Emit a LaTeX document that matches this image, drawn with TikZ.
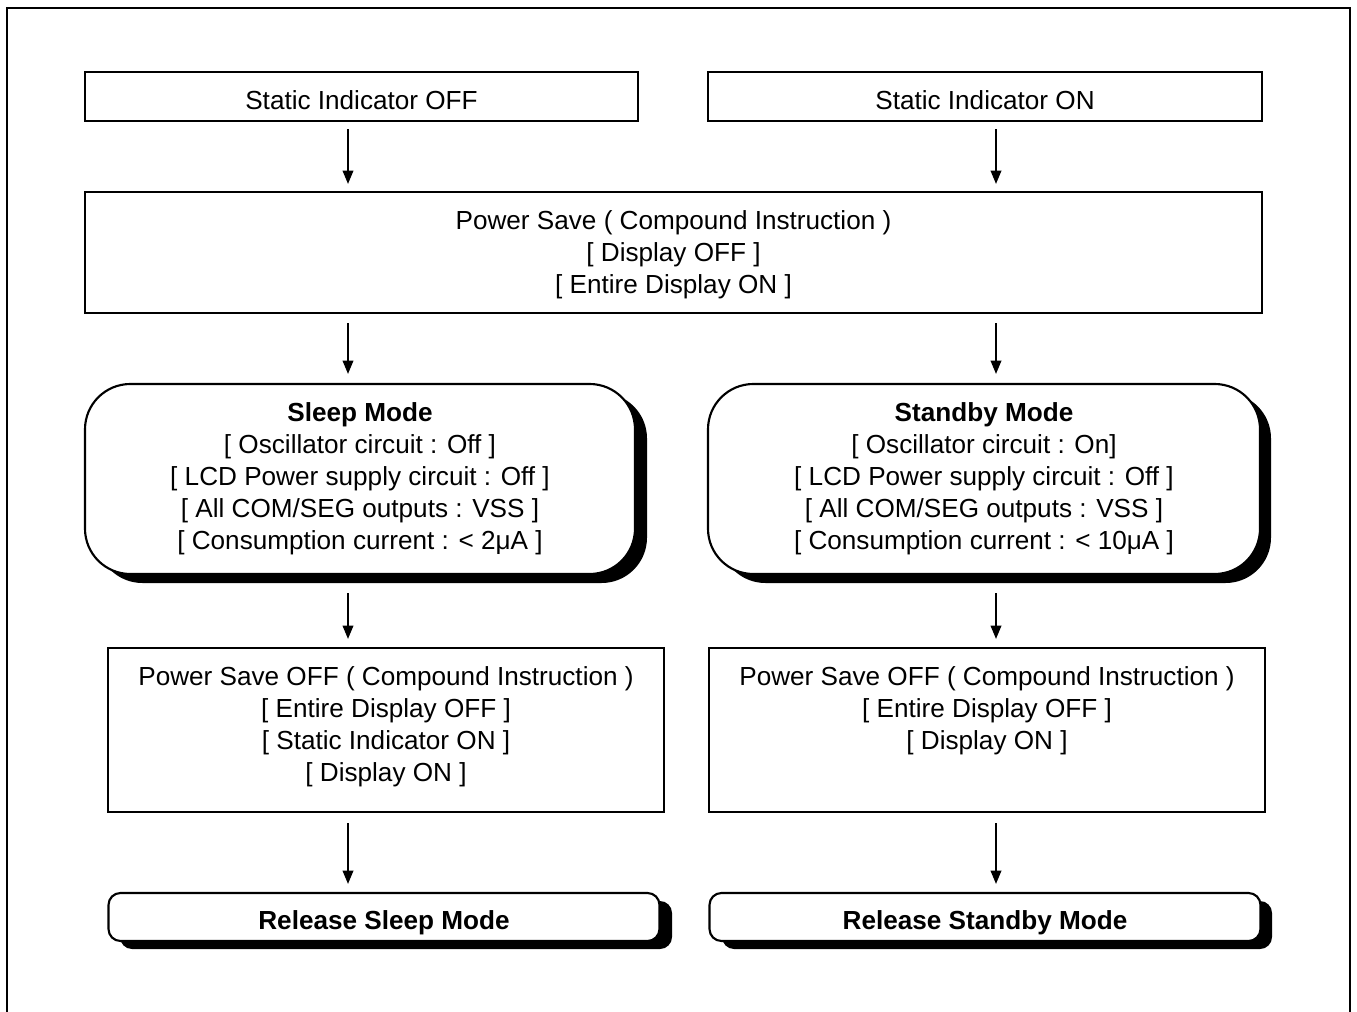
\documentclass[tikz,border=0pt]{standalone}
\usepackage{fontspec}
\setmainfont{Liberation Sans}
\usetikzlibrary{arrows.meta}
\newcommand{\uplift}[1]{\rule{0pt}{#1}}
\newcommand{\downext}[1]{\rule[-#1]{0pt}{0pt}}
\tikzset{
  box/.style={draw=black, line width=1.6pt, fill=white, align=center, inner sep=0pt,
    font=\fontsize{19.6}{24}\selectfont},
  roundbox/.style={box, rounded corners=34pt},
  pillbox/.style={box, rounded corners=9pt},
  shadowfill/.style={fill=black, draw=none},
  flow/.style={line width=1.2pt, -{Triangle[width=8pt,length=10pt]}},
  frame/.style={draw=black, line width=2.2pt}
}
\begin{document}
\begin{tikzpicture}[x=0.75pt,y=-0.75pt]
\useasboundingbox (0,0) rectangle (1357,1012);
\draw[frame] (7,1020) -- (7,8) -- (1350,8) -- (1350,1020);

\coordinate (cl) at (348,0);
\coordinate (cr) at (996,0);

% top boxes
\node[box, minimum width=553*0.75pt, minimum height=49*0.75pt] (soff) at (361.5,96.5) {\uplift{19.5pt}Static Indicator OFF};
\node[box, minimum width=554*0.75pt, minimum height=49*0.75pt] (son) at (985,96.5) {\uplift{19.5pt}Static Indicator ON};

% power save
\node[box, minimum width=1177*0.75pt, minimum height=121*0.75pt] (ps) at (673.5,252.5)
  {\uplift{17.5pt}Power Save ( Compound Instruction )\\{[} Display OFF ]\\{[} Entire Display ON ]};

% shadows for rounded boxes
\fill[shadowfill, rounded corners=34pt] (97,393) rectangle (647,583);
\fill[shadowfill, rounded corners=34pt] (720,393) rectangle (1271,583);
\node[roundbox, minimum width=550*0.75pt, minimum height=190*0.75pt] (sleep) at (360,479)
  {\textbf{Sleep Mode}\\{[} Oscillator circuit : Off ]\\{[} LCD Power supply circuit : Off ]\\{[} All COM/SEG outputs : VSS ]\\{[} Consumption current : < 2μA ]};
\node[roundbox, minimum width=552*0.75pt, minimum height=190*0.75pt] (standby) at (984,479)
  {\textbf{Standby Mode}\\{[} Oscillator circuit : On]\\{[} LCD Power supply circuit : Off ]\\{[} All COM/SEG outputs : VSS ]\\{[} Consumption current : < 10μA ]};

% power save off
\node[box, minimum width=556*0.75pt, minimum height=164*0.75pt] (psoffl) at (386,730)
  {Power Save OFF ( Compound Instruction )\\{[} Entire Display OFF ]\\{[} Static Indicator ON ]\\{[} Display ON ]\downext{9.7pt}};
\node[box, minimum width=556*0.75pt, minimum height=164*0.75pt] (psoffr) at (987,730)
  {Power Save OFF ( Compound Instruction )\\{[} Entire Display OFF ]\\{[} Display ON ]\downext{33.7pt}};

% release boxes
\fill[shadowfill, rounded corners=9pt] (120,901) rectangle (672,949);
\fill[shadowfill, rounded corners=9pt] (722,901) rectangle (1272,949);
\node[pillbox, minimum width=551*0.75pt, minimum height=48*0.75pt] (relsleep) at (384,917) {\uplift{23.3pt}\textbf{Release Sleep Mode}};
\node[pillbox, minimum width=551*0.75pt, minimum height=48*0.75pt] (relstandby) at (985,917) {\uplift{23.3pt}\textbf{Release Standby Mode}};

% arrows
\draw[flow] ([yshift=-5.25pt]soff.south -| cl) -- ([yshift=5.25pt]ps.north -| cl);
\draw[flow] ([yshift=-5.25pt]son.south -| cr) -- ([yshift=5.25pt]ps.north -| cr);
\draw[flow] ([yshift=-6.75pt]ps.south -| cl) -- ([yshift=6.75pt]sleep.north -| cl);
\draw[flow] ([yshift=-6.75pt]ps.south -| cr) -- ([yshift=6.75pt]standby.north -| cr);
\draw[flow] ([yshift=-13.5pt]sleep.south -| cl) -- ([yshift=6pt]psoffl.north -| cl);
\draw[flow] ([yshift=-13.5pt]standby.south -| cr) -- ([yshift=6pt]psoffr.north -| cr);
\draw[flow] ([yshift=-7.5pt]psoffl.south -| cl) -- ([yshift=6pt]relsleep.north -| cl);
\draw[flow] ([yshift=-7.5pt]psoffr.south -| cr) -- ([yshift=6pt]relstandby.north -| cr);
\end{tikzpicture}
\end{document}
